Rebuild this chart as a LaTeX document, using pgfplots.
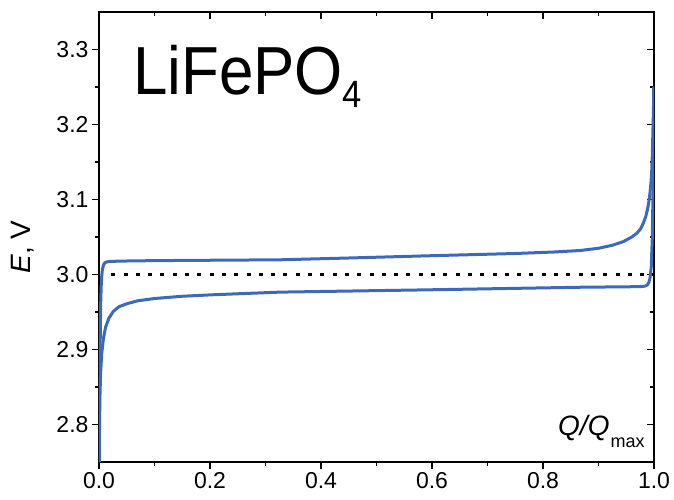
\documentclass[border=0pt]{standalone}
\usepackage{pgfplots}
\pgfplotsset{compat=1.18}
\usepackage{fontspec}
\setmainfont{Liberation Sans}
\definecolor{cblue}{RGB}{61,106,184}
\begin{document}
\begin{tikzpicture}
\useasboundingbox (-99pt,-37pt) rectangle (575pt,462pt);
\pgfplotsset{myaxis/.style={
 scale only axis, width=555pt, height=450pt, at={(0,0)}, anchor=south west,
 xmin=0, xmax=1, ymin=2.75, ymax=3.35,
 xtick={0,0.2,0.4,0.6,0.8,1}, ytick={2.8,2.9,3.0,3.1,3.2,3.3},
 minor x tick num=1, minor y tick num=1,
 major tick length=7pt, minor tick length=4pt,
 every tick/.style={black, line width=1.2pt},
 axis line style={line width=1.2pt},
 tick label style={font=\fontsize{23}{27}\selectfont},
 /pgf/number format/assume math mode=true,
 xticklabel style={/pgf/number format/.cd, fixed, fixed zerofill, precision=1},
 yticklabel style={/pgf/number format/.cd, fixed, fixed zerofill, precision=1},
}}
\begin{axis}[myaxis, xtick pos=top, ytick pos=right, tick align=inside,
 xticklabels={}, yticklabels={}]
\end{axis}
\begin{axis}[myaxis, xtick pos=bottom, ytick pos=left, tick align=outside,
 ylabel={\textit{E}, V},
 ylabel style={at={(axis description cs:-0.137,0.478)}, anchor=center, font=\fontsize{28}{32}\selectfont},
 clip=true]
\addplot[black, line width=3.3pt, dash pattern=on 4pt off 8.3pt] coordinates {(0.022,3.0) (1.0,3.0)};
\addplot[cblue, line width=3pt, line join=round] coordinates {
(0,2.75) (0.001,2.83) (0.002,2.90) (0.003,2.96) (0.004,2.985) (0.005,2.998) (0.006,3.006) (0.0075,3.011) (0.009,3.014)
(0.011,3.0158) (0.014,3.0168) (0.02,3.0175) (0.05,3.018) (0.1,3.0185) (0.2,3.019) (0.326,3.0196)
(0.45,3.022) (0.596,3.025) (0.75,3.028) (0.82,3.030) (0.867,3.032) (0.9,3.035) (0.925,3.039) (0.945,3.044)
(0.96,3.050) (0.969,3.055) (0.976,3.061) (0.981,3.069) (0.985,3.077) (0.988,3.086) (0.9905,3.096)
(0.9925,3.107) (0.9945,3.122) (0.996,3.14) (0.997,3.16) (0.998,3.19) (0.999,3.22) (0.9995,3.25)};
\addplot[cblue, line width=3pt, line join=round] coordinates {
(0.0005,2.75) (0.001,2.80) (0.0018,2.84) (0.003,2.87) (0.005,2.895) (0.008,2.915) (0.012,2.93)
(0.018,2.942) (0.026,2.951) (0.036,2.957) (0.05,2.961) (0.07,2.965) (0.1,2.968) (0.15,2.971)
(0.206,2.973) (0.326,2.9765) (0.596,2.9796) (0.867,2.983) (0.975,2.9838) (0.984,2.9845) (0.988,2.986)
(0.991,2.99) (0.993,2.996) (0.995,3.01) (0.997,3.05) (0.999,3.15) (1.0,3.25)};
\node[anchor=base west, inner sep=0pt] at (axis description cs:0.061,0.8156)
 {\scalebox{0.91}[1]{\fontsize{68}{80}\selectfont LiFePO\raisebox{-13pt}{\fontsize{38}{44}\selectfont 4}}};
\node[anchor=base west, inner sep=0pt] at (axis description cs:0.827,0.06)
 {\fontsize{28}{32}\selectfont\itshape Q/Q\hspace{1pt}\raisebox{-12pt}{\upshape\fontsize{18}{20}\selectfont max}};
\end{axis}
\end{tikzpicture}
\end{document}
